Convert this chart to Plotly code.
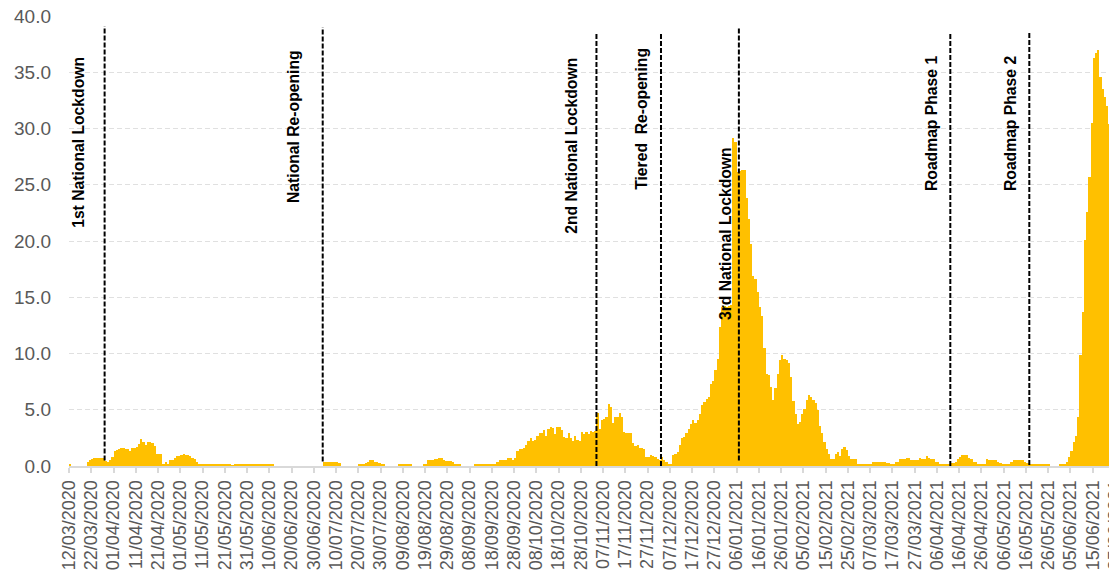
import pandas as pd
import plotly.graph_objects as go

start_date = "2020-03-12"

# daily values, in consecutive blocks
wave1_mar_apr = [0.2, 0, 0, 0, 0, 0, 0, 0, 0.4, 0.55, 0.65, 0.7, 0.7, 0.7, 0.72, 0.75, 0.45, 0.4, 0.5, 0.8,
                 1.3, 1.4, 1.5, 1.6, 1.6, 1.55, 1.5, 1.35, 1.6, 1.6, 1.7, 1.95, 2.4, 2.1, 1.85, 2.15, 2.15, 2.05, 1.75, 1.1]
wave1_may_jun = [1.1, 1.1, 0.2, 0.4, 0.2, 0.5, 0.55, 0.75, 0.85, 0.9, 1.0, 1.05, 1.0, 0.97, 0.85, 0.75, 0.6, 0.4, 0.1, 0.1,
                 0.1, 0.1, 0.1, 0.1, 0.1, 0.2, 0.2, 0.2, 0.1, 0.1, 0.1, 0.1, 0.1, 0.05, 0.1, 0.1, 0.1, 0.1, 0.2, 0.2,
                 0.2, 0.1, 0.1, 0.1, 0.1, 0.1, 0.1, 0.1, 0.1, 0.1, 0.1, 0.1, 0, 0, 0, 0, 0, 0, 0, 0]
summer_2020 = [0, 0, 0, 0, 0, 0, 0, 0, 0, 0, 0, 0, 0, 0, 0.4, 0.4, 0.4, 0.4, 0.4, 0.4,
               0.4, 0.3, 0, 0, 0, 0, 0, 0, 0, 0, 0.1, 0.1, 0.2, 0.3, 0.4, 0.5, 0.5, 0.4, 0.4, 0.3,
               0.2, 0.1, 0, 0, 0, 0, 0, 0, 0.1, 0.1, 0.1, 0.1, 0.1, 0.1, 0, 0, 0, 0, 0, 0.1,
               0.1, 0.5, 0.5, 0.55, 0.6, 0.6, 0.75, 0.75, 0.5, 0.45, 0.45, 0.45, 0.4, 0.1, 0.1, 0.1, 0, 0, 0, 0,
               0, 0, 0.1, 0.1, 0.1, 0.1, 0.1, 0.1, 0.2, 0.1, 0.1, 0.1, 0.4, 0.5, 0.5, 0.5, 0.5, 0.75, 0.75, 0.5]
autumn_2020 = [0.7, 1.3, 1.5, 1.55, 1.6, 1.85, 2.2, 2.45, 2.2, 2.35, 2.7, 2.95, 2.95, 3.2, 2.7, 3.25, 3.5, 3.4, 2.85, 3.5,
               3.5, 3.2, 2.6, 2.45, 2.95, 2.5, 2.2, 2.65, 2.35, 2.2, 3.0, 2.85, 3.0, 2.85, 3.1, 3.05, 3.1,
               4.7, 3.3, 4.1, 4.2, 4.4, 5.5, 5.25, 3.8, 4.4, 4.4, 4.75, 4.35, 3.0, 2.95, 2.9, 2.9, 2.05, 1.75, 1.85,
               1.6, 1.6, 1.55, 0.8]
winter_2020 = [0.8, 0.95, 0.9, 0.8, 0.65, 0.55, 0.8, 0.55, 0.35, 0.2, 0.2, 1.0, 1.1, 1.25, 1.85, 2.45, 2.6, 2.95, 3.3, 3.75,
               4.05, 3.85, 4.05, 4.65, 5.4, 5.7, 6.0, 6.1, 7.3, 7.6, 8.5, 9.55,
               12.35, 14.1, 14.2, 14.1, 14.2, 14.3, 29.2, 28.8, 26.1, 26.2, 26.3, 26.3, 23.8, 22.0]
winter_2021 = [19.7, 16.9, 16.6, 15.5, 14.1, 13.3, 10.5, 8.2, 8.05, 7.0, 5.9, 6.9, 8.2, 9.45, 9.9, 9.55, 9.45, 9.2, 7.9, 5.75,
               4.65, 3.75, 3.9, 4.65, 5.1,
               5.9, 6.35, 6.15, 5.85, 5.6, 4.95, 3.6, 2.9, 2.15, 1.55, 1.1, 0.65, 0.65, 1.05, 1.25, 0.85, 1.55, 1.65, 1.45, 0.85,
               0.65, 0.65, 0.6, 0.15, 0.1, 0.1, 0.1, 0.1, 0.1, 0.15]
spring_2021 = [0.4, 0.4, 0.4, 0.4, 0.4, 0.4, 0.25, 0.25, 0.1, 0.1, 0.35, 0.35, 0.65, 0.65, 0.65, 0.75, 0.75, 0.5, 0.5, 0.5,
               0.5, 0.75, 0.65, 0.65, 0.9, 0.75, 0.65, 0.65, 0.35, 0.35,
               0.2, 0.2, 0.2, 0.2, 0.2, 0.25, 0.25, 0.4, 0.6, 0.8, 0.95, 0.95, 0.95, 0.75, 0.6, 0.35, 0.35, 0.2, 0.2, 0.2,
               0.2, 0.65, 0.5, 0.5, 0.5, 0.5, 0.4, 0.3,
               0.2, 0.2, 0.2, 0.2, 0.35, 0.5, 0.5, 0.5, 0.5, 0.5, 0.35, 0.25, 0.25, 0.2, 0.2, 0.2, 0.2, 0.2, 0.2, 0.1,
               0.1, 0.1, 0, 0, 0, 0, 0.1, 0.1]
summer_2021 = [0.1, 0.35, 0.8, 1.3, 2.1, 2.7, 4.35, 9.85, 13.7, 20.1, 22.6, 25.7, 30.5, 36.3, 36.7, 37.0, 34.6, 33.5, 32.8, 32.0,
               30.4, 26.3, 26.3, 26.3]

values = wave1_mar_apr + wave1_may_jun + summer_2020 + autumn_2020 + winter_2020 + winter_2021 + spring_2021 + summer_2021

event_labels = ["1st National Lockdown", "National Re-opening", "2nd National Lockdown", "Tiered\u00a0 Re-opening",
                "3rd National Lockdown", "Roadmap Phase 1", "Roadmap Phase 2"]
event_dates = ["2020-03-28", "2020-07-04", "2020-11-04", "2020-12-03", "2021-01-07", "2021-04-12", "2021-05-17 12:00"]

y_ticks = [0, 5, 10, 15, 20, 25, 30, 35, 40]

# ---- drawing ----
dates = pd.date_range(start_date, periods=len(values), freq="D")
bar_x = dates + pd.Timedelta(hours=12)
tick_dates = pd.date_range(start_date, "2021-06-30", freq="10D")
tick_text = [d.strftime("%d/%m/%Y") for d in tick_dates]
x_end = pd.Timestamp(start_date) + pd.Timedelta(days=470.9)

fig = go.Figure()
fig.add_trace(go.Bar(x=bar_x, y=values, width=86400000, marker=dict(color="#FFC000", line=dict(width=0)),
                     hoverinfo="x+y"))

line_top = [39.1, 39.0, 38.55, 38.55, 39.0, 38.55, 38.6]
line_bottom = [0.5, 0.4, 0, 0, 0.5, 0, 0.1]
for i, d in enumerate(event_dates):
    fig.add_shape(type="line", xref="x", yref="y", x0=d, x1=d, y0=line_bottom[i], y1=line_top[i],
                  line=dict(color="black", width=2, dash="5px,2px"))

label_shift = [-26, -29, -25, -19, -12.7, -18.6, -18.6]
label_y = [28.78, 30.2, 28.5, 30.86, 20.64, 30.46, 30.46]
for i, (d, t) in enumerate(zip(event_dates, event_labels)):
    fig.add_annotation(x=d, y=label_y[i], xref="x", yref="y", text="<b>" + t + "</b>", showarrow=False,
                       textangle=-90, xshift=label_shift[i], xanchor="center", yanchor="middle",
                       font=dict(family="Liberation Sans, Arial", size=15.7, color="black"))

# the page adds an 8px body margin; size the figure so it fits the window without scrolling
fig.update_layout(
    width=1109, height=569,
    margin=dict(l=61, r=0, t=8, b=111, autoexpand=False),
    paper_bgcolor="white", plot_bgcolor="white",
    bargap=0, showlegend=False,
    font=dict(family="Liberation Sans, Arial", color="#595959"),
)
fig.update_xaxes(type="date", range=[pd.Timestamp(start_date), x_end], tickvals=tick_dates, ticktext=tick_text,
                 tickangle=-90, tickfont=dict(size=18, color="#595959"), ticks="outside", ticklen=5,
                 tickcolor="#d9d9d9", tickwidth=1.5, showline=True, linecolor="#d9d9d9", linewidth=2,
                 showgrid=False, zeroline=False, automargin=False, ticklabeloverflow="allow")
fig.update_yaxes(range=[0, 40], tickvals=y_ticks, tickformat=".1f", tickfont=dict(size=19, color="#595959"),
                 showgrid=True, gridcolor="#e0e0e0", gridwidth=1, griddash="5px,3px", zeroline=False,
                 showline=False, ticks="", ticklabelstandoff=17, automargin=False, ticklabeloverflow="allow")

fig.write_html("out.html")
